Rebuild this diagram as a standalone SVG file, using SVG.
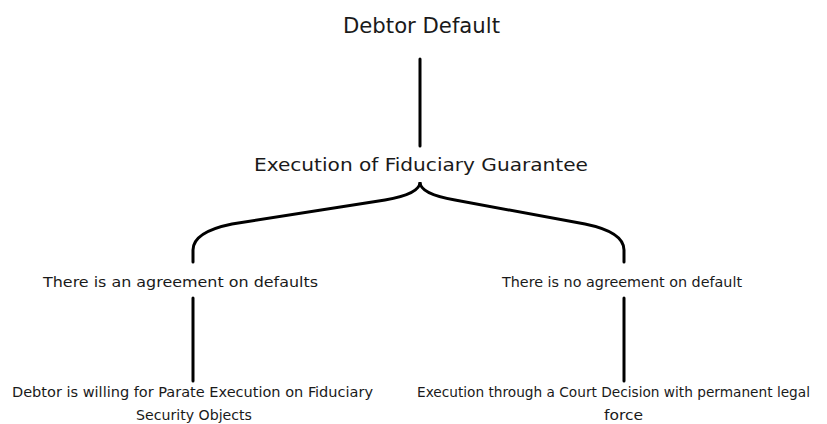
<svg xmlns="http://www.w3.org/2000/svg" width="827" height="424" viewBox="0 0 827 424">
<style>
text{font-family:"DejaVu Sans Condensed","Liberation Sans",sans-serif;fill:#1a1a1a;text-anchor:middle}
.c{fill:none;stroke:#000;stroke-width:3;stroke-linecap:round}
</style>
<rect width="827" height="424" fill="#fff"/>
<g id="connectors">
<line class="c" x1="420" y1="59" x2="420" y2="146"/>
<path class="c" d="M193,262 L193,250 Q193,232 232,224 L385,200 Q420,194 420,182 Q420,194 455,200 L585,224 Q624,232 624,250 L624,262"/>
<line class="c" x1="193" y1="298" x2="193" y2="381"/>
<line class="c" x1="624" y1="298" x2="624" y2="381"/>
</g>
<g id="n1"><text x="421.5" y="33" font-size="21" textLength="157" lengthAdjust="spacingAndGlyphs">Debtor Default</text></g>
<g id="n2"><text x="421" y="171" font-size="17" textLength="334" lengthAdjust="spacingAndGlyphs">Execution of Fiduciary Guarantee</text></g>
<g id="n3"><text x="180.5" y="287" font-size="14" textLength="275" lengthAdjust="spacingAndGlyphs">There is an agreement on defaults</text></g>
<g id="n4"><text x="622" y="287" font-size="14" textLength="240" lengthAdjust="spacingAndGlyphs">There is no agreement on default</text></g>
<g id="n5"><text x="192.5" y="397" font-size="14" textLength="361" lengthAdjust="spacingAndGlyphs">Debtor is willing for Parate Execution on Fiduciary</text><text x="194" y="420" font-size="14" textLength="116" lengthAdjust="spacingAndGlyphs">Security Objects</text></g>
<g id="n6"><text x="613.5" y="397" font-size="14" textLength="393" lengthAdjust="spacingAndGlyphs">Execution through a Court Decision with permanent legal</text><text x="623.5" y="420" font-size="14" textLength="39" lengthAdjust="spacingAndGlyphs">force</text></g>
</svg>
